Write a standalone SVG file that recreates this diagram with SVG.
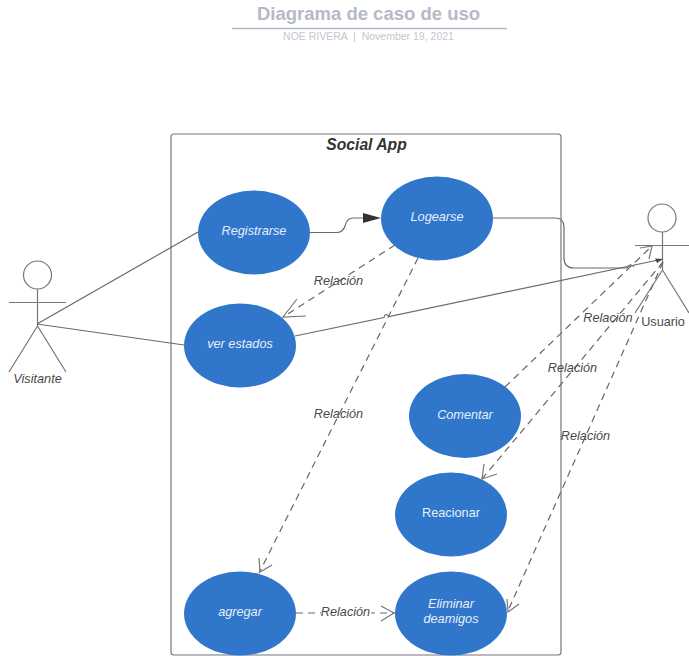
<svg xmlns="http://www.w3.org/2000/svg" width="689" height="656" viewBox="0 0 689 656">
<style>
text{font-family:"Liberation Sans",Arial,sans-serif}
.uc{fill:#3077cc}
.ut{fill:#e8eef8;font-size:12.700px;font-style:italic;text-anchor:middle}
.ln{fill:none;stroke:#6a6a6a;stroke-width:1.200}
.ds{fill:none;stroke:#666;stroke-width:1.200;stroke-dasharray:7 5}
.op{fill:none;stroke:#777;stroke-width:1.200}
.lb{fill:#4a4a4a;font-size:12.700px;font-style:italic;text-anchor:middle}
.ac{fill:none;stroke:#777;stroke-width:1.200}
</style>
<rect width="689" height="656" fill="#fff"/>
<g id="title">
<text x="368.500" y="20" font-size="18.500" font-weight="bold" fill="#b4bac6" text-anchor="middle">Diagrama de caso de uso</text>
<line x1="232" y1="28.500" x2="507" y2="28.500" stroke="#b4bac6" stroke-width="1.500"/>
<text x="368.500" y="40" font-size="10.500" fill="#c2c7d1" text-anchor="middle">NOE RIVERA &#160;|&#160; November 19, 2021</text>
</g>
<g id="frame">
<rect x="171" y="134" width="390" height="521" rx="3" fill="#fff" stroke="#777" stroke-width="1.200"/>
<text x="366.500" y="150" font-size="15.700" font-weight="bold" font-style="italic" fill="#333" text-anchor="middle">Social App</text>
</g>
<g id="actor-visitante" class="ac">
<circle cx="37.500" cy="275" r="14"/>
<path d="M37.500 289V326M9 302.500H66M37.500 326L9 372M37.500 326L66 372"/>
<text x="37.500" y="383" class="lb" stroke="none">Visitante</text>
</g>
<g id="actor-usuario" class="ac">
<circle cx="662" cy="218" r="14"/>
<path d="M662.500 232V270M635 245.500H689M662.500 270L635 313M662.500 270L689 313"/>
<text x="663" y="326" class="lb" stroke="none" style="font-style:normal">Usuario</text>
</g>
<g id="connectors">
<path class="ln" d="M37 324L198 232"/>
<path class="ln" d="M37 324L184 345"/>
<path class="ln" d="M310 232.500H337Q343 232.500 345 226Q347 218 353 218H363"/>
<path d="M381 218L363 213V223Z" fill="#333"/>
<path class="ln" d="M493 218H555Q564 218 564 227V258Q564 268 574 268H627Q630 262 634 267"/>
<path class="ln" d="M295 336L384 317.500Q385 312 389 316.500L663 259"/>
<path d="M663 259L655 258.500L657 263Z" fill="#444"/>
<path class="ds" d="M395 245L283 317"/>
<path class="op" d="M297 299L283 317L306 316"/>
<path class="ds" d="M418 258L259 573"/>
<path class="op" d="M259 558L260 572L272 565"/>
<path class="ds" d="M505 387L652 246"/>
<path class="op" d="M640 248L652 246L649 259"/>
<path class="ds" d="M663 262L482 479"/>
<path class="op" d="M484 464L482 479L497 474"/>
<path class="ds" d="M663 262L507 613"/>
<path class="op" d="M507 599L508 612L519 604"/>
<path class="ds" d="M296 613H395"/>
<path class="op" d="M381 606L394 613L381 621"/>
</g>
<g id="labels">
<rect x="321" y="604" width="50" height="16" fill="#fff"/>
<text x="345.500" y="616" class="lb">Relación</text>
<text x="338.500" y="285" class="lb">Relación</text>
<text x="338.500" y="418" class="lb">Relación</text>
<text x="608" y="322" class="lb">Relación</text>
<text x="572.500" y="372" class="lb">Relación</text>
<text x="585.500" y="439.500" class="lb">Relación</text>
</g>
<g id="node-registrarse"><ellipse class="uc" cx="254" cy="232.500" rx="56" ry="42"/><text class="ut" x="254" y="235">Registrarse</text></g>
<g id="node-logearse"><ellipse class="uc" cx="437" cy="218.500" rx="56" ry="42"/><text class="ut" x="437" y="221">Logearse</text></g>
<g id="node-ver-estados"><ellipse class="uc" cx="240" cy="345.500" rx="56" ry="42"/><text class="ut" x="240" y="348">ver estados</text></g>
<g id="node-comentar"><ellipse class="uc" cx="465" cy="416" rx="56" ry="42"/><text class="ut" x="465" y="419">Comentar</text></g>
<g id="node-reacionar"><ellipse class="uc" cx="451" cy="514.500" rx="56" ry="42"/><text class="ut" x="451" y="517" style="font-style:normal">Reacionar</text></g>
<g id="node-agregar"><ellipse class="uc" cx="240" cy="613.500" rx="56" ry="42"/><text class="ut" x="240" y="616">agregar</text></g>
<g id="node-eliminar"><ellipse class="uc" cx="451" cy="613.500" rx="56" ry="42"/><text class="ut" x="451" y="608">Eliminar</text><text class="ut" x="451" y="623">deamigos</text></g>
</svg>
